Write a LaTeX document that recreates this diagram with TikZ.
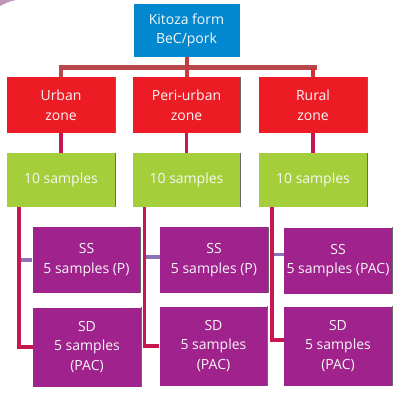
\documentclass[tikz,border=0pt]{standalone}
\usepackage{fontspec}
\setmainfont{Open Sans}
\definecolor{cblue}{HTML}{0288CF}
\definecolor{cred}{HTML}{ED1C24}
\definecolor{cgreen}{HTML}{A4CE3A}
\definecolor{cpurple}{HTML}{A0228C}
\definecolor{cbar}{HTML}{B9484C}
\definecolor{clink}{HTML}{C8174E}
\definecolor{clav}{HTML}{8C72B4}
\definecolor{cshadow}{HTML}{6A6A6A}
\begin{document}
\begin{tikzpicture}[x=1pt,y=1pt,
  box/.style={rectangle, inner sep=0pt, text=white!94!gray, align=center,
    font=\fontsize{14}{19.5}\selectfont},
  topbox/.style={box, fill=cblue, minimum width=105pt, minimum height=53pt},
  zonebox/.style={box, fill=cred, minimum width=108pt, minimum height=56pt},
  tenbox/.style={box, fill=cgreen, minimum width=108pt, minimum height=54pt},
  ssbox/.style={box, fill=cpurple, minimum width=108pt, minimum height=66pt},
  sdbox/.style={box, fill=cpurple, minimum width=108pt, minimum height=79pt},
  barline/.style={draw=cbar, line width=5pt},
  trunk/.style={draw=cbar!80!red, line width=4pt},
  link/.style={draw=clink, line width=3.5pt},
  sslink/.style={draw=clav, line width=3.5pt}]
\useasboundingbox (0,0) rectangle (398,-394);
\fill[cpurple!70!black, opacity=0.45] (0,0) -- (16,0) .. controls (8,-2) .. (0,-6) -- cycle;

\coordinate (barL) at (59,-67.5);
\coordinate (barR) at (317,-67.5);

\node[topbox] (top) at (186.5,-30.5) {Kitoza form\\BeC/pork};
\node[zonebox] (z1) at (61,-105) {Urban\\zone};
\node[zonebox] (z2) at (186.5,-105) {Peri-urban\\zone};
\node[zonebox] (z3) at (313,-105) {Rural\\zone};
\node[tenbox] (g1) at (61,-180) {10 samples};
\node[tenbox] (g2) at (186.5,-180) {10 samples};
\node[tenbox] (g3) at (313,-180) {10 samples};
\node[ssbox] (ss1) at (86.5,-260) {SS\\5 samples (P)};
\node[ssbox] (ss2) at (214,-260) {SS\\5 samples (P)};
\node[ssbox] (ss3) at (338,-260.5) {SS\\5 samples (PAC)};
\node[sdbox] (sd1) at (87,-347) {SD\\5 samples\\(PAC)};
\node[sdbox] (sd2) at (213.5,-346) {SD\\5 samples\\(PAC)};
\node[sdbox] (sd3) at (338,-346) {SD\\5 samples\\(PAC)};

% top tree
\draw[barline] (barL) -- (barR);
\draw[trunk] (top.south) -- (z2.north);
\draw[link, draw=cbar] (barL -| z1.north) -- (z1.north);
\draw[link, draw=cbar!70!red] (barR -| z3.north) -- (z3.north);

% zone to samples
\draw[link] (z1.south) -- (g1.north);
\draw[link] (z2.south) -- (g2.north);
\draw[link] (z3.south) -- (g3.north);

% samples to SS / SD
\coordinate (v1) at ([xshift=12pt]g1.south west);
\coordinate (v2) at ([xshift=12pt]g2.south west);
\coordinate (v3) at ([xshift=13pt]g3.south west);
\draw[sslink] (ss1.west -| v1) -- (ss1.west);
\draw[sslink] ([yshift=3pt]ss2.west -| v2) -- ([yshift=3pt]ss2.west);
\draw[sslink] ([yshift=6pt]ss3.west -| v3) -- ([yshift=6pt]ss3.west);
\draw[link, line join=miter] (v1) |- (sd1.west);
\draw[link, line join=miter] (v2) |- (sd2.west);
\draw[link, line join=miter] (v3) |- ([yshift=6pt]sd3.west);

% thin shadow on right edges
\foreach \n in {top,z1,z2,z3,g1,g2,g3,ss1,ss2,ss3,sd1,sd2,sd3}{
  \draw[cshadow, line width=0.8pt] (\n.north east) -- (\n.south east);
}
\end{tikzpicture}
\end{document}
